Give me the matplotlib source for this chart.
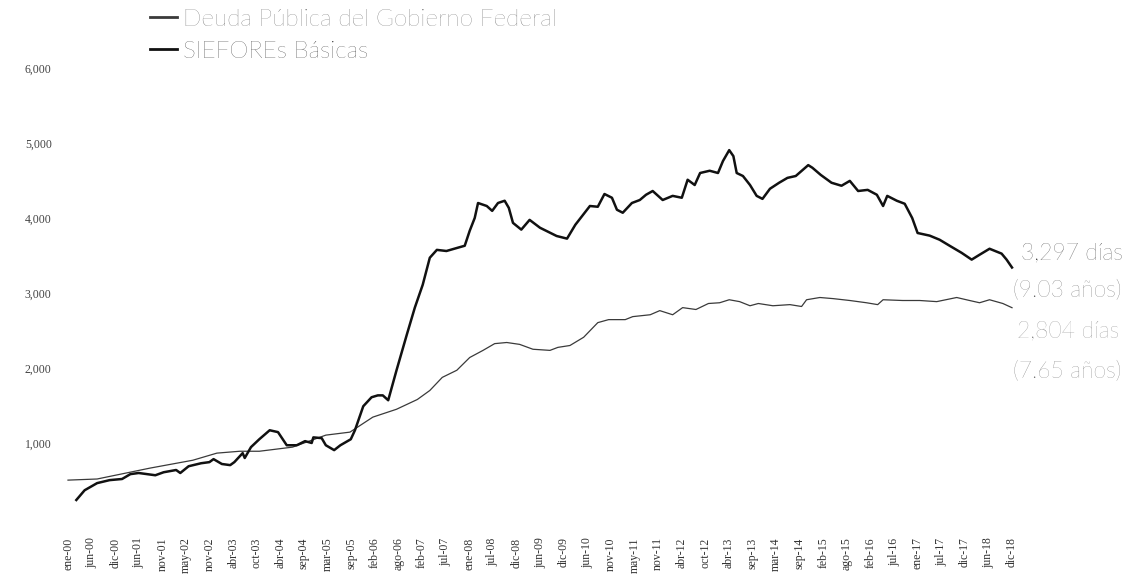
import matplotlib
matplotlib.use("Agg")
import matplotlib.pyplot as plt
from matplotlib.lines import Line2D

# ---- data (x = months since ene-00) ----
siefore_months = [2, 4, 7, 10, 13, 15, 17, 21, 23, 26, 27, 29, 32, 34, 35, 37, 39, 40, 42, 42.5,
                  44, 46, 48.5, 50.5, 52.6, 55, 57, 58.6, 59, 61, 62, 64, 65.5, 68, 69, 71, 73, 74.5,
                  75.7, 77, 79, 81.5, 83.4, 85.3, 87, 88.7, 91, 93.5, 95.4, 96.6, 97.8, 98.6, 100.7,
                  102, 103.4, 105, 106, 107, 109, 111, 113.5, 117.5, 120, 122, 125.5, 127.4, 129,
                  130.8, 132, 133.4, 135.6, 137.5, 139, 140.6, 143, 145.4, 147.6, 149, 150.7, 152,
                  154.3, 156.3, 157.5, 159, 160, 160.8, 162.3, 164, 165.6, 167, 168.8, 171, 173, 175,
                  178, 179, 181, 183.6, 186, 188, 190, 192.3, 194.5, 196, 197, 199.3, 201.2, 203,
                  204.3, 207.2, 209.6, 212, 214.9, 217.3, 219.2, 221.6, 224.5, 225.7, 227]
siefore_values = [240, 370, 465, 505, 520, 585, 600, 570, 610, 640, 600, 690, 730, 745, 785, 720, 705,
                  745, 865, 800, 945, 1050, 1170, 1145, 970, 970, 1025, 1000, 1075, 1065, 970, 905, 970,
                  1050, 1170, 1490, 1610, 1635, 1635, 1570, 1970, 2450, 2805, 3110, 3470, 3575, 3560,
                  3600, 3630, 3830, 4000, 4200, 4160, 4095, 4200, 4230, 4135, 3935, 3845, 3975, 3870,
                  3760, 3725, 3910, 4160, 4150, 4320, 4270, 4110, 4070, 4200, 4240, 4310, 4360, 4240,
                  4295, 4270, 4510, 4440, 4600, 4630, 4600, 4760, 4905, 4825, 4600, 4560, 4440, 4295,
                  4255, 4390, 4470, 4535, 4560, 4705, 4670, 4575, 4470, 4430, 4495, 4360, 4375, 4310,
                  4160, 4295, 4230, 4190, 4000, 3800, 3765, 3710, 3630, 3535, 3445, 3510, 3590, 3525,
                  3445, 3340]

deuda_months = [0, 7, 19.7, 30, 35.8, 41.3, 46, 54, 62, 67.8, 73.3, 79, 84, 87, 90, 93.5, 96.6, 99.8,
                102.6, 105.5, 108.6, 111.8, 115.9, 117.8, 120.7, 124, 127.4, 130, 134, 135.8, 140,
                142.3, 145.4, 147.8, 151, 154, 156.7, 159, 161.5, 164, 166, 169.5, 173.6, 176.4,
                177.6, 180.8, 184, 188, 192, 194.7, 196, 200.7, 204.8, 208.9, 213.7, 216.8, 219.2,
                221.6, 224.8, 227]
deuda_values = [505, 520, 665, 770, 865, 890, 890, 945, 1105, 1145, 1345, 1450, 1580, 1700, 1875, 1970,
                2140, 2235, 2325, 2340, 2315, 2250, 2235, 2275, 2300, 2410, 2605, 2645, 2645, 2685,
                2710, 2765, 2710, 2805, 2780, 2860, 2870, 2910, 2885, 2830, 2860, 2830, 2845, 2820,
                2910, 2940, 2925, 2900, 2870, 2845, 2910, 2900, 2900, 2885, 2940, 2900, 2870, 2910,
                2860, 2804]

tick_labels = ["ene-00", "jun-00", "dic-00", "jun-01", "nov-01", "may-02", "nov-02", "abr-03",
               "oct-03", "abr-04", "sep-04", "mar-05", "sep-05", "feb-06", "ago-06", "feb-07",
               "jul-07", "ene-08", "jul-08", "dic-08", "jun-09", "dic-09", "jun-10", "nov-10",
               "may-11", "nov-11", "abr-12", "oct-12", "abr-13", "sep-13", "mar-14", "sep-14",
               "feb-15", "ago-15", "feb-16", "jul-16", "ene-17", "jul-17", "dic-17", "jun-18",
               "dic-18"]
y_ticks = [1000, 2000, 3000, 4000, 5000, 6000]
annotations = ["3,297 días", "(9.03 años)", "2,804 días", "(7.65 años)"]
series_names = ["Deuda Pública del Gobierno Federal", "SIEFOREs Básicas"]

# ---- figure ----
W, H = 1134, 576
fig = plt.figure(figsize=(W / 100, H / 100), dpi=100)
left_px, right_px, top_px, bottom_px = 60, 1020, 68, 518
ax = fig.add_axes([left_px / W, 1 - bottom_px / H, (right_px - left_px) / W, (bottom_px - top_px) / H])

ax.plot(deuda_months, deuda_values, color="#3a3a3a", lw=0.9)
ax.plot(siefore_months, siefore_values, color="#111111", lw=1.8)

ax.set_ylim(0, 6000)
px_per_month = (1012 - 68) / 227
ax.set_xlim((left_px - 68) / px_per_month, (right_px - 68) / px_per_month)

n = len(tick_labels)
tick_pos = [227 * i / (n - 1) for i in range(n)]
ax.set_xticks(tick_pos)
ax.set_xticklabels(tick_labels, rotation=90, fontsize=8.5, family="Liberation Serif", color="#333333",
                   va="top")
ax.set_yticks(y_ticks)
ax.set_yticklabels([f"{v:,}" for v in y_ticks], fontsize=8.5, family="Liberation Serif", color="#444444")
ax.tick_params(axis="both", length=0)
ax.tick_params(axis="x", pad=14)
ax.tick_params(axis="y", pad=6)
for s in ax.spines.values():
    s.set_visible(False)

# right annotations
ann_y = [253, 291, 331, 372]
ann_x = [1021, 1013, 1017, 1013]
ann_col = ["#2a2a2a", "#555555", "#777777", "#666666"]
for txt, xp, yp, c in zip(annotations, ann_x, ann_y, ann_col):
    fig.text(xp / W, 1 - yp / H, txt, fontsize=16.5, family="Lato", fontweight="light", color=c,
             va="center", ha="left")

# legend
handles = [Line2D([], [], color="#3a3a3a", lw=2.0), Line2D([], [], color="#111111", lw=2.0)]
leg = fig.legend(handles, series_names, loc="upper left", bbox_to_anchor=(128 / W, 1 + 13 / H),
                 frameon=False, handlelength=1.1, handletextpad=0.25, labelspacing=0.45,
                 prop={"family": "Lato", "weight": "light", "size": 17.5})
for t, c in zip(leg.get_texts(), ["#555555", "#1a1a1a"]):
    t.set_color(c)

fig.savefig("out.png", dpi=100, facecolor="white")
